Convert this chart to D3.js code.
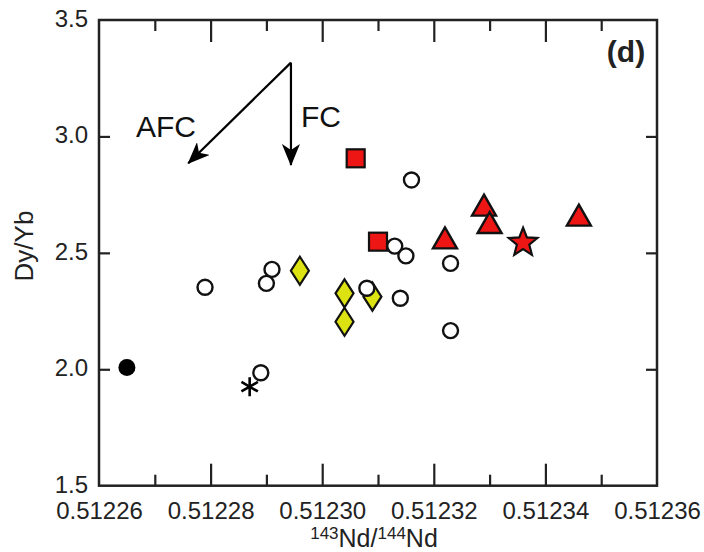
<!DOCTYPE html>
<html><head><meta charset="utf-8">
<script src="https://cdn.jsdelivr.net/npm/d3@7"></script>
<style>body{margin:0;background:#fff}svg{display:block;font-family:"Liberation Sans",Arial,sans-serif}</style>
</head><body><svg id="c" width="704" height="552"></svg>
<script>
// ---- data ----
const xTickLabels = ["0.51226","0.51228","0.51230","0.51232","0.51234","0.51236"];
const yTickLabels = ["1.5","2.0","2.5","3.0","3.5"];
const openCircles = [[0.512279,2.352],[0.512291,2.429],[0.512290,2.369],[0.512289,1.985],[0.512308,2.348],[0.512316,2.813],[0.512313,2.529],[0.512315,2.487],[0.512323,2.455],[0.512314,2.305],[0.512323,2.166]];
const filledCircle = [[0.512265,2.008]];
const asterisk = [[0.512287,1.925]];
const diamonds = [[0.512296,2.423],[0.512304,2.326],[0.512304,2.204],[0.512309,2.312]];
const squares = [[0.512306,2.906],[0.512310,2.548]];
const triangles = [[0.512322,2.562],[0.512329,2.703],[0.512330,2.628],[0.512346,2.660]];
const stars = [[0.512336,2.548]];
const arrowStart = [0.5122944,3.317];
const arrowAFC = [0.512276,2.885];
const arrowFC = [0.5122944,2.877];

// ---- layout ----
const svg = d3.select("#c");
const L=99,R=657,T=20,B=485.7;
const x = d3.scaleLinear().domain([0.51226,0.51236]).range([L,R]);
const y = d3.scaleLinear().domain([1.5,3.5]).range([B,T]);
const ink="#222";
const RED="#ee1515", YEL="#dde312";
const FONT="Liberation Sans, Arial, sans-serif";

const xMajor = xTickLabels.map(Number);
const xMinor = d3.range(0,5).map(i=>0.51227+i*0.00002);
const yMajor = yTickLabels.map(Number);
const yInner = [2.0,2.5,3.0];

function styleAxis(g){g.select(".domain").remove();g.selectAll(".tick line").attr("stroke",ink).attr("stroke-width",2.2);g.selectAll("text").attr("fill",ink).style("font-size","24px").style("font-family",FONT);}

svg.append("g").attr("transform",`translate(0,${B})`)
 .call(d3.axisBottom(x).tickValues(xMajor.slice(1,-1)).tickSize(-22).tickFormat(""))
 .call(styleAxis);
svg.append("g").attr("transform",`translate(0,${B})`)
 .call(d3.axisBottom(x).tickValues(xMinor).tickSize(-11).tickFormat(""))
 .call(styleAxis);
svg.append("g").attr("transform",`translate(0,${B})`)
 .call(d3.axisBottom(x).tickValues(xMajor).tickSize(0).tickFormat((d,i)=>xTickLabels[i]))
 .call(styleAxis)
 .call(g=>g.selectAll("text").attr("y",33.3).attr("dy",0));
svg.append("g").attr("transform",`translate(0,${T})`)
 .call(d3.axisTop(x).tickValues(xMajor.slice(1,-1)).tickSize(-22).tickFormat(""))
 .call(styleAxis);
svg.append("g").attr("transform",`translate(0,${T})`)
 .call(d3.axisTop(x).tickValues(xMinor).tickSize(-11).tickFormat(""))
 .call(styleAxis);
svg.append("g").attr("transform",`translate(${L},0)`)
 .call(d3.axisLeft(y).tickValues(yInner).tickSize(-11).tickFormat(""))
 .call(styleAxis);
svg.append("g").attr("transform",`translate(${L},0)`)
 .call(d3.axisLeft(y).tickValues(yMajor).tickSize(0).tickPadding(11).tickFormat((d,i)=>yTickLabels[i]))
 .call(styleAxis)
 .call(g=>g.selectAll("text").attr("dy","0.27em"));
svg.append("g").attr("transform",`translate(${R},0)`)
 .call(d3.axisRight(y).tickValues(yInner).tickSize(-11).tickFormat(""))
 .call(styleAxis);
svg.append("rect").attr("x",L).attr("y",T).attr("width",R-L).attr("height",B-T)
 .attr("fill","none").attr("stroke",ink).attr("stroke-width",2.5);

// titles
svg.append("text").attr("transform",`translate(33,246) rotate(-90)`).attr("text-anchor","middle")
 .attr("fill",ink).style("font-size","26px").text("Dy/Yb");
const xt = svg.append("text").attr("x",374).attr("y",546.8).attr("text-anchor","middle").attr("fill",ink).style("font-size","25px");
xt.append("tspan").style("font-size","17px").attr("dy",-8).text("143");
xt.append("tspan").attr("dy",8).text("Nd/");
xt.append("tspan").style("font-size","17px").attr("dy",-8).text("144");
xt.append("tspan").attr("dy",8).text("Nd");
svg.append("text").attr("x",626).attr("y",62).attr("text-anchor","middle").attr("fill",ink)
 .style("font-size","30px").style("font-weight","bold").text("(d)");

// arrows
const defs = svg.append("defs");
defs.append("marker").attr("id","ah").attr("viewBox","0 0 22 18").attr("refX",21).attr("refY",9)
 .attr("markerWidth",22).attr("markerHeight",18).attr("markerUnits","userSpaceOnUse").attr("orient","auto")
 .append("path").attr("d","M0,0 L22,9 L0,18 L6,9 Z").attr("fill","#000");
[arrowAFC,arrowFC].forEach(t=>{
 svg.append("line").attr("x1",x(arrowStart[0])).attr("y1",y(arrowStart[1])).attr("x2",x(t[0])).attr("y2",y(t[1]))
  .attr("stroke","#000").attr("stroke-width",2.2).attr("marker-end","url(#ah)");
});
svg.append("text").attr("x",166).attr("y",137).attr("text-anchor","middle").attr("fill","#111").style("font-size","30px").text("AFC");
svg.append("text").attr("x",321).attr("y",127).attr("text-anchor","middle").attr("fill","#111").style("font-size","30px").text("FC");

// markers
const pts = svg.append("g");
pts.selectAll(".dia").data(diamonds).join("path")
 .attr("d","M0,-14 L9,0 L0,14 L-9,0 Z").attr("transform",d=>`translate(${x(d[0])},${y(d[1])})`)
 .attr("fill",YEL).attr("stroke","#111").attr("stroke-width",2.2);
pts.selectAll(".sq").data(squares).join("rect")
 .attr("x",d=>x(d[0])-9).attr("y",d=>y(d[1])-9).attr("width",18).attr("height",18)
 .attr("fill",RED).attr("stroke","#111").attr("stroke-width",2.2);
pts.selectAll(".oc").data(openCircles).join("circle")
 .attr("cx",d=>x(d[0])).attr("cy",d=>y(d[1])).attr("r",7.5)
 .attr("fill","#fff").attr("stroke","#111").attr("stroke-width",2.4);
pts.selectAll(".fc").data(filledCircle).join("circle")
 .attr("cx",d=>x(d[0])).attr("cy",d=>y(d[1])).attr("r",8.5).attr("fill","#000");
pts.selectAll(".tri").data(triangles).join("path")
 .attr("d","M0,-11 L12,10 L-12,10 Z").attr("transform",d=>`translate(${x(d[0])},${y(d[1])})`)
 .attr("fill",RED).attr("stroke","#111").attr("stroke-width",2.4).attr("stroke-linejoin","miter");
function starPath(ro,ri){let p=[];for(let i=0;i<10;i++){const a=-Math.PI/2+i*Math.PI/5;const r=i%2?ri:ro;p.push([r*Math.cos(a),r*Math.sin(a)]);}return "M"+p.map(q=>q.join(",")).join("L")+"Z";}
pts.selectAll(".st").data(stars).join("path")
 .attr("d",starPath(15,6.5)).attr("transform",d=>`translate(${x(d[0])},${y(d[1])+1})`)
 .attr("fill",RED).attr("stroke","#111").attr("stroke-width",2.2);
const ast = pts.selectAll(".as").data(asterisk).join("g").attr("transform",d=>`translate(${x(d[0])},${y(d[1])})`);
[90,30,150].forEach(a=>{const r=9.5,c=Math.cos(a*Math.PI/180)*r,s=Math.sin(a*Math.PI/180)*r;
 ast.append("line").attr("x1",-c).attr("y1",-s).attr("x2",c).attr("y2",s).attr("stroke","#000").attr("stroke-width",2.6);});
</script></body></html>
